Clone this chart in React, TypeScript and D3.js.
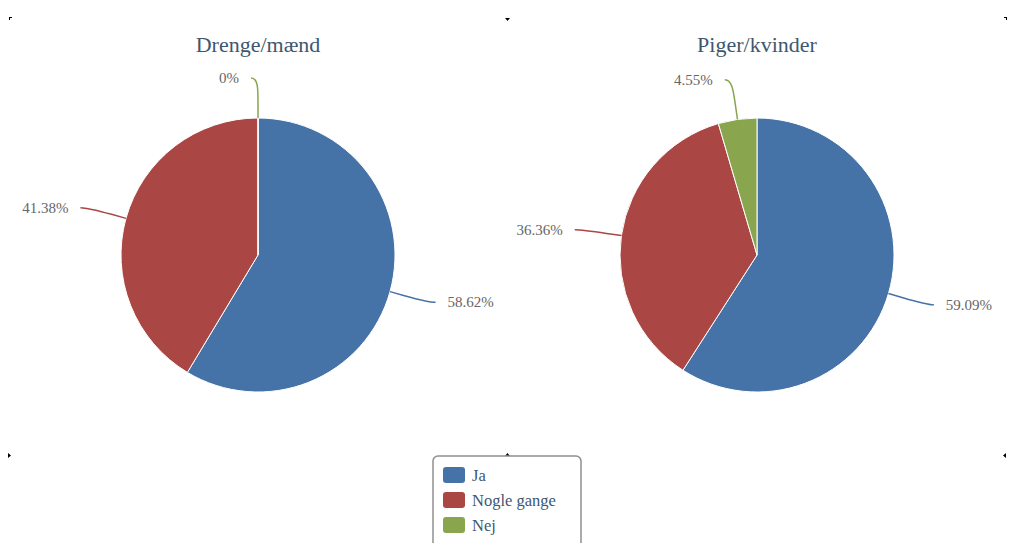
import React from "react";
import * as d3 from "d3";

const categories = ["Ja", "Nogle gange", "Nej"];
const colors = ["#4572A7", "#AA4643", "#89A54E"];
const titles = ["Drenge/mænd", "Piger/kvinder"];
const boysValues = [58.62, 41.38, 0];
const girlsValues = [59.09, 36.36, 4.55];
const seriesValues = [boysValues, girlsValues];

const W = 1009;
const H = 543;
const centersX = [258, 757];
const centerY = 255;
const radius = 137;
const labelDistance = 40;
const serif = "'Liberation Serif', 'Times New Roman', Times, serif";

function cornerMarks() {
  const marks: { x: number; y: number; d: string }[] = [
    { x: 9, y: 17, d: "M0,0 L3,0 L3,1 L1,1 L1,3 L0,3 Z" },
    { x: 505, y: 18, d: "M0,0 L5,0 L2.5,3 Z" },
    { x: 1004, y: 17, d: "M0,0 L3,0 L3,3 L2,3 L2,1 L0,1 Z" },
    { x: 8, y: 453, d: "M0,0 L3,2.5 L0,5 Z" },
    { x: 505, y: 453, d: "M0,3 L5,3 L2.5,0 Z" },
    { x: 1003, y: 453, d: "M3,0 L0,2.5 L3,5 Z" },
  ];
  return marks.map((m, i) => (
    <path key={i} d={m.d} transform={`translate(${m.x},${m.y})`} fill="#000" />
  ));
}

function Pie({ values, cx, title }: { values: number[]; cx: number; title: string }) {
  const pie = d3
    .pie<number>()
    .sort(null)
    .value((d) => d)
    .startAngle(0)
    .endAngle(2 * Math.PI);
  const arcs = pie(values);
  const arc = d3.arc<d3.PieArcDatum<number>>().innerRadius(0).outerRadius(radius);
  const R = radius + labelDistance;
  const fmt = (v: number) => `${+v.toFixed(2)}%`;

  return (
    <g>
      <text x={cx} y={52} textAnchor="middle" fontFamily={serif} fontSize={22} fill="#3E576F">
        {title}
      </text>
      <g transform={`translate(${cx},${centerY})`}>
        {arcs.map((a, i) => (
          <path key={i} d={arc(a) || ""} fill={colors[i]} stroke="#fff" strokeWidth={1} strokeLinejoin="round" />
        ))}
      </g>
      {arcs.map((a, i) => {
        const mid = (a.startAngle + a.endAngle) / 2;
        const s = Math.sin(mid);
        const c = Math.cos(mid);
        const side = s >= 0 ? 1 : -1;
        const dy = -R * c;
        const ly = centerY + dy;
        const ax = cx + side * Math.sqrt(Math.max(0, R * R - dy * dy));
        const sx = ax + side * 7;
        const p1x = cx + radius * s;
        const p1y = centerY - radius * c;
        const p2x = cx + (radius + 15) * s;
        const p2y = centerY - (radius + 15) * c;
        const c2x = 2 * p2x - p1x;
        const c2y = 2 * p2y - p1y;
        const path = `M${sx},${ly} C${ax},${ly} ${c2x},${c2y} ${p2x},${p2y} L${p1x},${p1y}`;
        return (
          <g key={i}>
            <path d={path} fill="none" stroke={colors[i]} strokeWidth={1.5} />
            <text
              x={sx + side * 12}
              y={ly + 5}
              textAnchor={side > 0 ? "start" : "end"}
              fontFamily={serif}
              fontSize={15}
              fill="#666"
            >
              {fmt(a.data)}
            </text>
          </g>
        );
      })}
    </g>
  );
}

export default function App() {
  return (
    <svg width={W} height={H} style={{ display: "block", position: "absolute", left: 0, top: 0 }}>
      <rect x={0} y={0} width={W} height={H} fill="#fff" />
      {cornerMarks()}
      {seriesValues.map((vals, i) => (
        <Pie key={i} values={vals} cx={centersX[i]} title={titles[i]} />
      ))}
      <g>
        <rect x={433} y={456} width={148} height={110} rx={5} fill="#fff" stroke="#909090" strokeWidth={1.5} />
        {categories.map((c, i) => (
          <g key={c}>
            <rect x={443} y={467 + i * 25} width={22} height={16} rx={3} fill={colors[i]} />
            <text x={472} y={481 + i * 25} fontFamily={serif} fontSize={16.5} fill="#3E576F">
              {c}
            </text>
          </g>
        ))}
      </g>
    </svg>
  );
}
